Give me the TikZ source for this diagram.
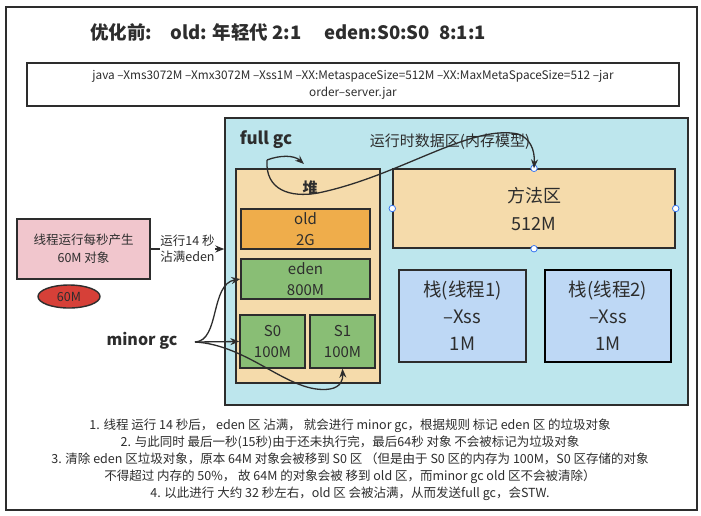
\documentclass[tikz,border=0pt]{standalone}
\usepackage{fontspec}
\setmainfont{Noto Sans CJK SC}
\usetikzlibrary{arrows.meta,shapes.geometric}
\definecolor{linec}{RGB}{45,45,45}
\definecolor{cyanbg}{RGB}{189,230,237}
\definecolor{peach}{RGB}{245,219,171}
\definecolor{oldc}{RGB}{239,173,75}
\definecolor{edenc}{RGB}{137,190,117}
\definecolor{stackc}{RGB}{190,216,245}
\definecolor{pinkc}{RGB}{241,198,205}
\definecolor{redc}{RGB}{214,64,56}
\definecolor{handle}{RGB}{60,120,240}
\begin{document}
\begin{tikzpicture}[
  x=1pt, y=-1pt,
  every node/.style={align=center, text=linec, inner sep=0pt},
  box/.style={draw=linec, line width=1.4pt},
  fs/.style 2 args={font=\fontsize{#1}{#2}\selectfont},
  arr/.style={draw=linec, line width=1.3pt, -{Stealth[length=9pt,width=7pt]}},
  dot/.style={circle, draw=handle, fill=white, line width=0.8pt, minimum size=6.5pt}
]
\useasboundingbox (0,0) rectangle (701,515);
\draw[box, fill=white] (6,7) rectangle (697,510);
\node[fs={18.5}{22}] (title) at (288,32) {\bfseries 优化前:\quad old: 年轻代 2:1\quad\ eden:S0:S0\enspace 8:1:1};
\node[box, minimum width=652, minimum height=43, fs={11.8}{17}] (cmd) at (353,84.5)
  {java --Xms3072M --Xmx3072M --Xss1M --XX:MetaspaceSize=512M --XX:MaxMetaSpaceSize=512 --jar\\order--server.jar};
\node[box, fill=cyanbg, minimum width=463, minimum height=287] (rt) at (456.5,261.5) {};
\node[fs={17}{20}] (fullgc) at (266,140) {\bfseries full gc};
\node[fs={15}{18}] (rtlbl) at (450,142) {运行时数据区(内存模型)};
\node[box, fill=peach, minimum width=144, minimum height=214] (heap) at (308,276) {};
\node[fs={15}{18}] (heaplbl) at (310,188) {\bfseries 堆};
\node[box, fill=oldc, minimum width=129, minimum height=40, fs={15}{21}] (old) at (305.5,229) {old\\2G};
\node[box, fill=edenc, minimum width=129, minimum height=40, fs={15}{21}] (eden) at (305.5,279) {eden\\800M};
\node[box, fill=edenc, minimum width=65, minimum height=53, fs={15}{21}] (s0) at (272.5,341.5) {S0\\100M};
\node[box, fill=edenc, minimum width=65, minimum height=53, fs={15}{21}] (s1) at (342.5,341.5) {S1\\100M};
\node[box, fill=peach, minimum width=282, minimum height=79, fs={18}{28}] (meth) at (534,208.5) {方法区\\512M};
\node[box, fill=stackc, minimum width=127, minimum height=92, fs={18.5}{27}] (stk1) at (462.5,316) {栈(线程1)\\--Xss\\1M};
\node[box, draw=black, fill=stackc, minimum width=126, minimum height=92, fs={18.5}{27}] (stk2) at (608,316) {栈(线程2)\\--Xss\\1M};
\foreach \a in {north,south,east,west}
  \node[dot] (h-\a) at (meth.\a) {};
\node[box, fill=pinkc, minimum width=133, minimum height=60, fs={12.5}{18}] (thread) at (83.5,249) {线程运行每秒产生\\60M 对象};
\node[ellipse, box, fill=redc, minimum width=62, minimum height=23, fs={12.5}{15}] (obj) at (69,296.5) {60M};
\node[fs={16}{19}] (minorgc) at (142,341) {\bfseries minor gc};
\coordinate (mg) at (195,342);
\coordinate (fg) at (267,160);
\draw[arr] (thread.east) -- node[fill=white, fs={12.5}{16}] (fill14) {运行14 秒\\沾满eden} (thread.east -| rt.west);
\draw[arr] (fg) .. controls (280,155) and (294,155) .. (304,164);
\draw[arr] (fg) .. controls (265,190) and (290,198) .. (318,193)
  .. controls (400,176) and (470,124) .. (518,134)
  .. controls (530,138) and (535,150) .. (meth.north);
\draw[arr] (mg) .. controls (220,341) and (210,284) .. (eden.west);
\draw[arr] (mg) -- (s0.west);
\draw[arr] (mg) .. controls (250,345) and (290,395) .. (330,389)
  .. controls (341,387) and (343,380) .. (s1.south);
\node[fs={12.5}{17}] (notes) at (350,459.5) {%
1. 线程 运行 14 秒后， eden 区 沾满， 就会进行 minor gc，根据规则 标记 eden 区 的垃圾对象\\
2. 与此同时 最后一秒(15秒)由于还未执行完，最后64秒 对象 不会被标记为垃圾对象\\
3. 清除 eden 区垃圾对象，原本 64M 对象会被移到 S0 区 （但是由于 S0 区的内存为 100M，S0 区存储的对象\\
不得超过 内存的 50\%， 故 64M 的对象会被 移到 old 区，而minor gc old 区不会被清除）\\
4. 以此进行 大约 32 秒左右，old 区 会被沾满，从而发送full gc，会STW.};
\end{tikzpicture}
\end{document}
